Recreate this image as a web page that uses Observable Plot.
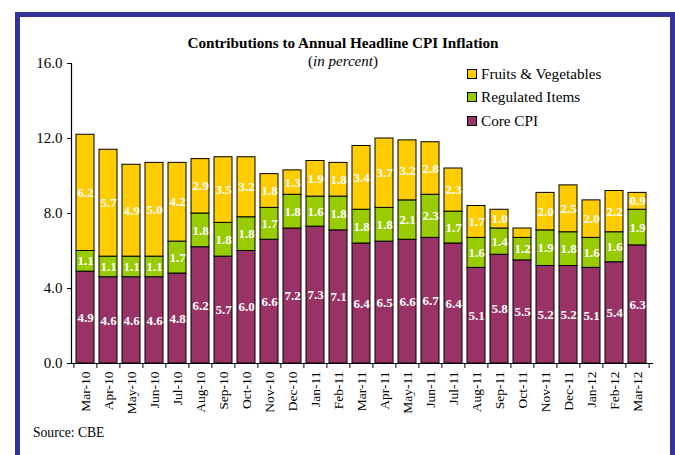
<!DOCTYPE html>
<html><head><meta charset="utf-8">
<script src="https://cdn.jsdelivr.net/npm/d3@7"></script>
<script src="https://cdn.jsdelivr.net/npm/@observablehq/plot@0.6"></script>
<style>
body{margin:0;background:#fff;font-family:"Liberation Serif","Times New Roman",serif;color:#000;}
#wrap{position:relative;width:675px;height:455px;overflow:hidden;background:#fff;}
#border{position:absolute;left:15px;top:12px;width:660px;height:460px;border:5px solid #333399;border-bottom:none;box-sizing:border-box;}
#chart{position:absolute;left:0;top:0;}
#chart svg text{font-family:"Liberation Serif","Times New Roman",serif;}
.title{position:absolute;left:93px;width:500px;text-align:center;line-height:17px;}
#t1{top:34px;font-weight:bold;font-size:15.2px;}
#t2{top:53px;font-size:15px;}
#t2 i{font-style:italic;}
.leg{position:absolute;left:467px;font-size:15.2px;line-height:17px;white-space:nowrap;}
.sw{display:inline-block;width:8px;height:8px;border:1px solid #000;margin-right:4px;vertical-align:0px;}
#src{position:absolute;left:33px;top:425px;font-size:13.6px;}
</style>
</head><body>
<div id="wrap">
  <div id="border"></div>
  <div id="chart"></div>
  <div class="title" id="t1">Contributions to Annual Headline CPI Inflation</div>
  <div class="title" id="t2">(<i>in percent</i>)</div>
  <div id="legend"></div>
  <div id="src">Source: CBE</div>
</div>
<script>
const months = ["Mar-10","Apr-10","May-10","Jun-10","Jul-10","Aug-10","Sep-10","Oct-10","Nov-10","Dec-10","Jan-11","Feb-11","Mar-11","Apr-11","May-11","Jun-11","Jul-11","Aug-11","Sep-11","Oct-11","Nov-11","Dec-11","Jan-12","Feb-12","Mar-12"];
const coreCPI = [4.9,4.6,4.6,4.6,4.8,6.2,5.7,6.0,6.6,7.2,7.3,7.1,6.4,6.5,6.6,6.7,6.4,5.1,5.8,5.5,5.2,5.2,5.1,5.4,6.3];
const regulated = [1.1,1.1,1.1,1.1,1.7,1.8,1.8,1.8,1.7,1.8,1.6,1.8,1.8,1.8,2.1,2.3,1.7,1.6,1.4,1.2,1.9,1.8,1.6,1.6,1.9];
const fruitsVeg = [6.2,5.7,4.9,5.0,4.2,2.9,3.5,3.2,1.8,1.3,1.9,1.8,3.4,3.7,3.2,2.8,2.3,1.7,1.0,0.5,2.0,2.5,2.0,2.2,0.9];
const seriesNames = ["Core CPI","Regulated Items","Fruits & Vegetables"];
const seriesColors = ["#993366","#99CC00","#FFCC00"];
const yTicks = [0,4,8,12,16];

const seriesValues = [coreCPI, regulated, fruitsVeg];
const rows = [];
months.forEach((m,i) => seriesNames.forEach((s,j) => rows.push({month:m, series:s, value:seriesValues[j][i]})));

const W = 675, H = 455, mL = 71, mR = 23, mT = 63, mB = 92;
const step = (W - mL - mR) / months.length;
const serif = "Liberation Serif, Times New Roman, serif";

const plot = Plot.plot({
  width: W, height: H,
  marginLeft: mL, marginRight: mR, marginTop: mT, marginBottom: mB,
  style: {fontFamily: serif, fontSize: "13px", background: "transparent", color: "#000"},
  x: {domain: months, paddingInner: 0.2, paddingOuter: 0.1, label: null},
  y: {domain: [0,16], label: null},
  color: {domain: seriesNames, range: seriesColors},
  marks: [
    Plot.barY(rows, Plot.stackY({x:"month", y:"value", fill:"series", z:"series", order: seriesNames, stroke: "#000", strokeWidth: 1})),
    Plot.text(rows, Plot.stackY({x:"month", y:"value", z:"series", order: seriesNames,
      text: d => d.value >= 0.8 ? d.value.toFixed(1) : "",
      fill: "#fff", fontWeight: "bold", fontSize: 13, fontFamily: serif})),
    Plot.frame({anchor: "left", strokeWidth: 1.2}),
    Plot.frame({anchor: "bottom", strokeWidth: 1.2}),
    Plot.axisY({ticks: yTicks, tickFormat: d => d.toFixed(1), tickSize: 4, tickPadding: 5, fontSize: 15, label: null}),
    Plot.axisX({tickSize: 0, tickRotate: -90, tickPadding: 8, fontSize: 13.5, label: null}),
    Plot.axisX({text: null, tickSize: 5, dx: -step/2, label: null}),
    Plot.axisX([months[months.length-1]], {text: null, tickSize: 5, dx: step/2, label: null})
  ]
});
document.getElementById("chart").appendChild(plot);

const legend = document.getElementById("legend");
const legendOrder = [2,1,0];
const legendTops = [65, 88, 112];
legendOrder.forEach((j,k) => {
  const d = document.createElement("div");
  d.className = "leg"; d.style.top = legendTops[k] + "px";
  d.innerHTML = `<span class="sw" style="background:${seriesColors[j]}"></span>${seriesNames[j]}`;
  legend.appendChild(d);
});
</script>
</body></html>
